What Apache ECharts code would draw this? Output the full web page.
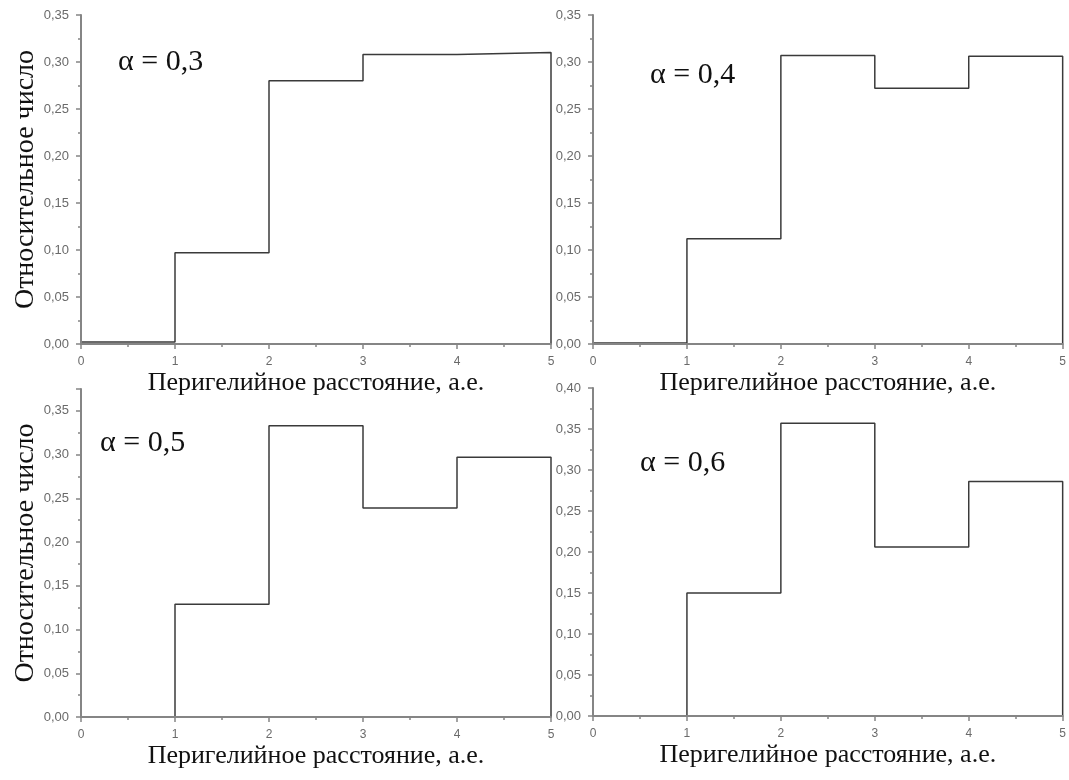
<!DOCTYPE html>
<html><head><meta charset="utf-8">
<script src="https://cdn.jsdelivr.net/npm/echarts@6/dist/echarts.min.js"></script>
<style>html,body{margin:0;padding:0;background:#fff}#c{width:1069px;height:780px}</style>
</head><body><div id="c"></div>
<script>
// bin edges (perihelion distance, AU)
const binEdges = [0, 1, 2, 3, 4, 5];
// relative number per bin for each alpha
const alpha03 = [0.002, 0.097, 0.280, 0.308, 0.310];
const alpha04 = [0.001, 0.112, 0.307, 0.272, 0.306];
const alpha05 = [0.000, 0.129, 0.333, 0.239, 0.297];
const alpha06 = [0.000, 0.150, 0.357, 0.206, 0.286];
const alphaLabels = ['α = 0,3', 'α = 0,4', 'α = 0,5', 'α = 0,6'];
const yMaxes = [0.35, 0.35, 0.375, 0.40];
const xName = 'Перигелийное расстояние, а.е.';
const yName = 'Относительное число';

const panels = [alpha03, alpha04, alpha05, alpha06];
const grids = [
  {left: 81, top: 15, width: 470, height: 329},
  {left: 593, top: 15, width: 471, height: 329},
  {left: 81, top: 389, width: 470, height: 328},
  {left: 593, top: 388, width: 471, height: 328}
];
const alphaPos = [[118, 62], [650, 75], [100, 443], [640, 463]];

// histogram outline: horizontal segment over each bin, closed down to 0 at the right edge
function stepData(vals) {
  const d = [];
  for (let i = 0; i < vals.length; i++) {
    d.push([binEdges[i], vals[i]]);
    d.push([binEdges[i + 1], vals[i]]);
  }
  d.push([binEdges[binEdges.length - 1], 0]);
  return d;
}

const axisColor = '#858585';
const labelColor = '#6a6a6a';
const serif = '"Liberation Serif", "DejaVu Serif", serif';
const sans = '"Liberation Sans", Arial, sans-serif';

const option = {
  animation: false,
  backgroundColor: '#ffffff',
  grid: grids.map(g => Object.assign({containLabel: false}, g)),
  graphic: alphaLabels.map((t, i) => ({
    type: 'text', x: alphaPos[i][0], y: alphaPos[i][1], z: 10,
    style: {text: t, fontFamily: serif, fontSize: 30, fill: '#111', verticalAlign: 'middle', align: 'left'}
  })),
  xAxis: panels.map((p, i) => ({
    type: 'value', gridIndex: i, min: 0, max: 5, interval: 1, z: 5,
    name: xName, nameLocation: 'middle', nameGap: 26,
    nameTextStyle: {fontFamily: serif, fontSize: 26, color: '#111'},
    axisLine: {show: true, onZero: false, lineStyle: {color: axisColor, width: 2}},
    axisTick: {show: true, length: 5, lineStyle: {color: axisColor, width: 1.5}},
    minorTick: {show: true, splitNumber: 2, length: 3, lineStyle: {color: axisColor, width: 1.5}},
    axisLabel: {color: labelColor, fontSize: 12, margin: 12, fontFamily: sans},
    splitLine: {show: false}
  })),
  yAxis: panels.map((p, i) => ({
    type: 'value', gridIndex: i, min: 0, max: yMaxes[i], interval: 0.05, z: 5,
    name: (i % 2 === 0) ? yName : '', nameLocation: 'middle', nameGap: 41,
    nameTextStyle: {fontFamily: serif, fontSize: 28, color: '#111'},
    axisLine: {show: true, onZero: false, lineStyle: {color: axisColor, width: 2}},
    axisTick: {show: true, length: 5, lineStyle: {color: axisColor, width: 1.5}},
    minorTick: {show: true, splitNumber: 2, length: 3, lineStyle: {color: axisColor, width: 1.5}},
    axisLabel: {
      color: labelColor, fontSize: 13, margin: 12, fontFamily: sans,
      formatter: v => (Math.abs(Math.round(v * 20) - v * 20) < 1e-6) ? v.toFixed(2).replace('.', ',') : ''
    },
    splitLine: {show: false}
  })),
  series: panels.map((vals, i) => ({
    type: 'line', xAxisIndex: i, yAxisIndex: i, z: 1,
    showSymbol: false, symbol: 'none',
    lineStyle: {color: '#3a3a3a', width: 1.5},
    data: stepData(vals)
  }))
};
const chart = echarts.init(document.getElementById('c'), null, {renderer: 'canvas'});
chart.setOption(option);
</script></body></html>
